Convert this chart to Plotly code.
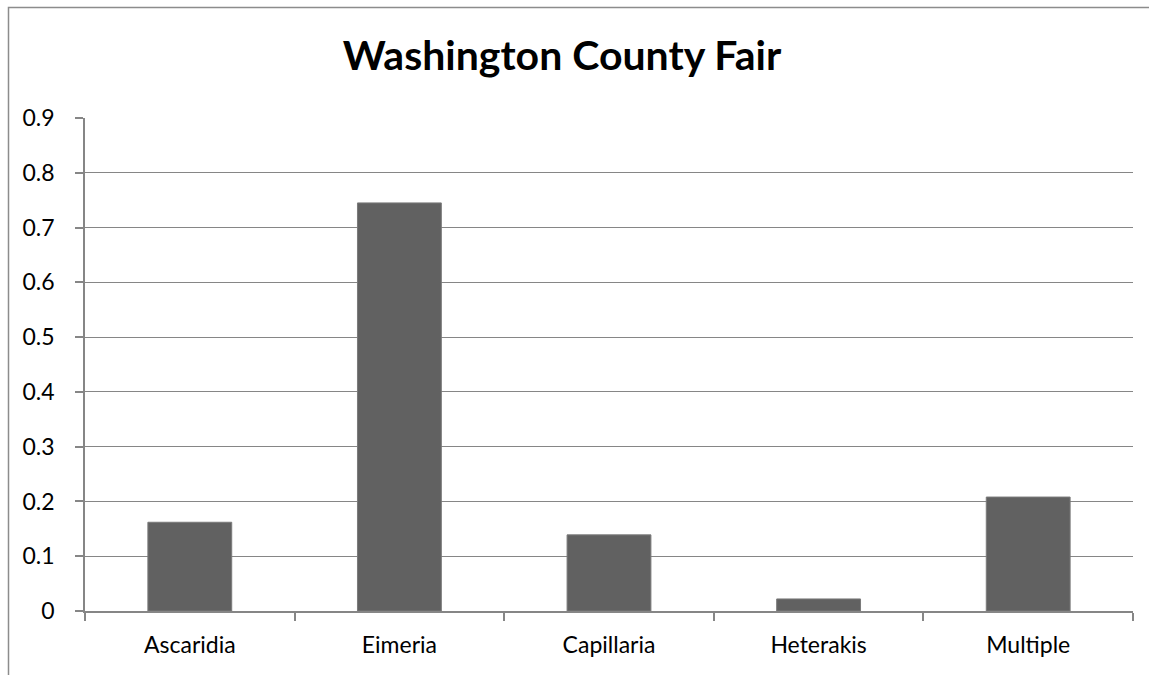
import plotly.graph_objects as go

# Parasite prevalence by genus
categories = ["Ascaridia", "Eimeria", "Capillaria", "Heterakis", "Multiple"]
prevalence = [0.162, 0.745, 0.139, 0.022, 0.208]
y_ticks = [0, 0.1, 0.2, 0.3, 0.4, 0.5, 0.6, 0.7, 0.8, 0.9]
y_tick_text = ["0", "0.1", "0.2", "0.3", "0.4", "0.5", "0.6", "0.7", "0.8", "0.9"]

W, H = 1149, 675
ML, MR, MT, MB = 85, 16, 118, 64

fig = go.Figure(
    go.Bar(
        x=categories,
        y=prevalence,
        marker=dict(color="#616161", line=dict(color="#7a7a7a", width=1)),
        width=0.4,
    )
)

grid_color = "#868686"
font_family = "Lato, 'Open Sans', sans-serif"

# outer chart border (left and top edges visible)
px_x = lambda p: (p - ML) / (W - ML - MR)
px_y = lambda p: (H - MB - p) / (H - MT - MB)
fig.add_shape(
    type="rect", xref="paper", yref="paper",
    x0=px_x(8.5), x1=px_x(W + 20), y0=px_y(H + 20), y1=px_y(7.5),
    line=dict(color="#8c8c8c", width=1.5), fillcolor="rgba(0,0,0,0)", layer="below",
)

fig.update_layout(
    width=W, height=H,
    margin=dict(l=ML, r=MR, t=MT, b=MB, autoexpand=False),
    paper_bgcolor="white", plot_bgcolor="white",
    showlegend=False,
    title=dict(
        text="<b>Washington County Fair</b>",
        x=562 / W, xref="container", xanchor="center",
        y=1 - 56 / H, yref="container", yanchor="middle",
        font=dict(family=font_family, size=41, color="black"),
    ),
    font=dict(family=font_family, size=23, color="black"),
)

fig.update_xaxes(
    type="category",
    showgrid=False,
    showline=True, linecolor=grid_color, linewidth=1.5,
    ticks="outside", tickson="boundaries", ticklen=8, tickcolor=grid_color, tickwidth=1.5,
    ticklabelstandoff=13,
    tickfont=dict(size=23),
)
fig.update_yaxes(
    range=[0, 0.9],
    tickvals=y_ticks, ticktext=y_tick_text,
    showgrid=True, gridcolor=grid_color, gridwidth=1.4,
    showline=True, linecolor=grid_color, linewidth=1.5,
    ticks="outside", ticklen=8, tickcolor=grid_color, tickwidth=1.5,
    ticklabelstandoff=16,
    zeroline=False,
    tickfont=dict(size=23),
)

fig.write_html("out.html")
